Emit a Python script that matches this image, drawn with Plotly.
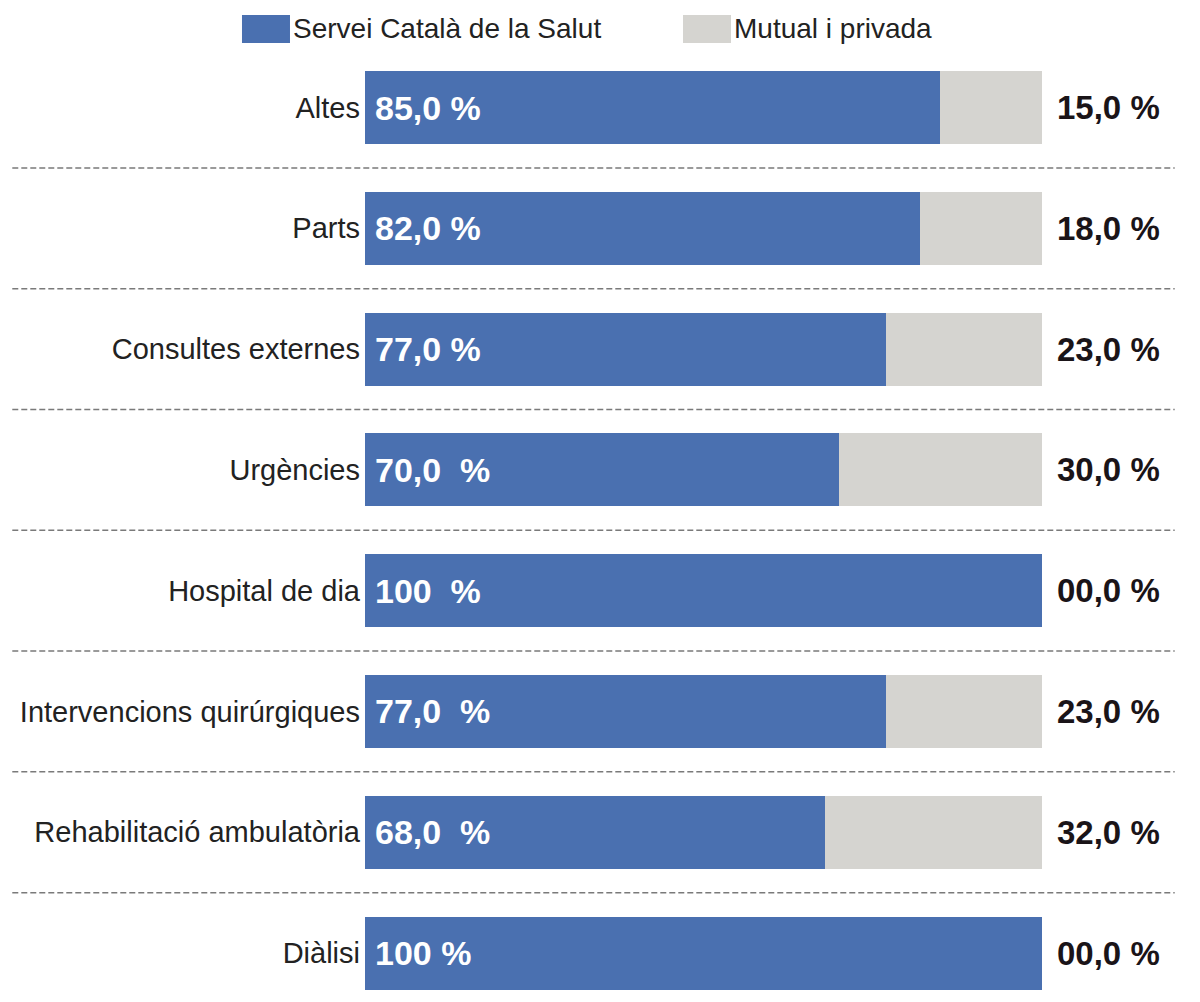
import plotly.graph_objects as go

categories = ["Altes", "Parts", "Consultes externes", "Urgències", "Hospital de dia",
              "Intervencions quirúrgiques", "Rehabilitació ambulatòria", "Diàlisi"]
catsalut = [85, 82, 77, 70, 100, 77, 68, 100]
privada = [15, 18, 23, 30, 0, 23, 32, 0]
catsalut_labels = ["85,0 %", "82,0 %", "77,0 %", "70,0  %", "100  %", "77,0  %", "68,0  %", "100 %"]
privada_labels = ["15,0 %", "18,0 %", "23,0 %", "30,0 %", "00,0 %", "23,0 %", "32,0 %", "00,0 %"]
series_names = ["Servei Català de la Salut", "Mutual i privada"]

BLUE = "#4a70b0"
GREY = "#d5d4d0"
NARROW = "Liberation Sans Narrow, Arial Narrow, Liberation Sans, sans-serif"
BOLD = "Liberation Sans, Arial, sans-serif"

fig = go.Figure()
fig.add_trace(go.Bar(y=categories, x=catsalut, orientation="h", name=series_names[0],
                     marker=dict(color=BLUE, line=dict(width=0)), hoverinfo="skip"))
fig.add_trace(go.Bar(y=categories, x=privada, orientation="h", name=series_names[1],
                     marker=dict(color=GREY, line=dict(width=0)), hoverinfo="skip"))

# labels inside blue bars
for cat, lab in zip(categories, catsalut_labels):
    fig.add_annotation(x=0, xref="x", y=cat, yref="y", text=lab, showarrow=False,
                       xanchor="left", xshift=8,
                       font=dict(family=BOLD, size=34, color="white", weight="bold"))

# right-hand labels
for cat, lab in zip(categories, privada_labels):
    fig.add_annotation(x=1, xref="paper", y=cat, yref="y", text=lab, showarrow=False,
                       xanchor="left", xshift=13,
                       font=dict(family=BOLD, size=33, color="#1a1418", weight="bold"))

# dashed separators
for i in range(len(categories) - 1):
    fig.add_shape(type="line", xref="paper", yref="y", x0=-0.521, x1=1.196,
                  y0=i + 0.5, y1=i + 0.5,
                  line=dict(color="#7a7a7a", width=1.5, dash="6px,3px"))

# custom legend
legend_items = [(series_names[0], BLUE, -0.1817, -0.1108), (series_names[1], GREY, 0.4697, 0.5406)]
for name, col, x0, x1 in legend_items:
    fig.add_shape(type="rect", xref="paper", yref="paper", x0=x0, x1=x1, y0=0.9969, y1=1.0261,
                  fillcolor=col, line=dict(width=0))
    fig.add_annotation(x=x1, xref="paper", y=1.0115, yref="paper", text=name, showarrow=False,
                       xanchor="left", xshift=1, yanchor="middle",
                       font=dict(family=NARROW, size=28, color="#222222"))

fig.update_layout(
    width=1200, height=1002, barmode="stack", bargap=0.396,
    margin=dict(l=357, r=166, t=32, b=13),
    plot_bgcolor="white", paper_bgcolor="white", showlegend=False,
    xaxis=dict(range=[0, 100], visible=False, fixedrange=True),
    yaxis=dict(range=[7.364, -0.559], showgrid=False, zeroline=False, showline=False,
               ticks="", ticklabelstandoff=4,
               tickfont=dict(family=NARROW, size=29, color="#222222")),
)
fig.write_html("out.html")
